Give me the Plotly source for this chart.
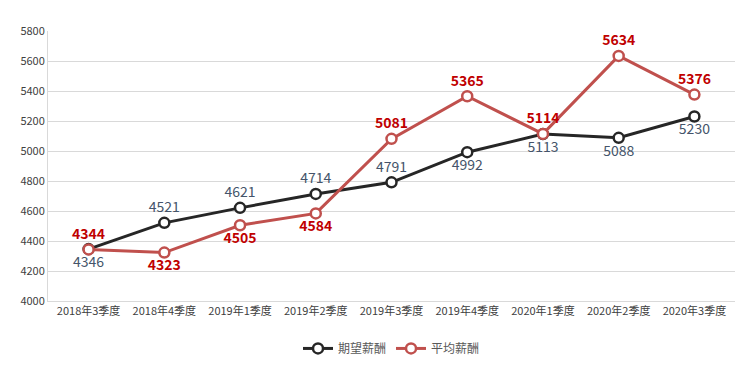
import plotly.graph_objects as go

categories = ["2018年3季度", "2018年4季度", "2019年1季度", "2019年2季度", "2019年3季度",
              "2019年4季度", "2020年1季度", "2020年2季度", "2020年3季度"]
expected = [4346, 4521, 4621, 4714, 4791, 4992, 5113, 5088, 5230]
average = [4344, 4323, 4505, 4584, 5081, 5365, 5114, 5634, 5376]
expected_pos = ["bottom center", "top center", "top center", "top center", "top center",
                "bottom center", "bottom center", "bottom center", "bottom center"]
average_pos = ["top center", "bottom center", "bottom center", "bottom center", "top center",
               "top center", "top center", "top center", "top center"]

font = "Noto Sans CJK SC, Microsoft YaHei, sans-serif"
fig = go.Figure()
fig.add_trace(go.Scatter(
    x=categories, y=expected, name="期望薪酬", mode="lines+markers+text",
    line=dict(color="#262626", width=3),
    marker=dict(symbol="circle", size=10, color="white", line=dict(color="#262626", width=2.5)),
    text=[str(v) for v in expected], textposition=expected_pos,
    textfont=dict(color="#44546A", size=14, family=font),
))
fig.add_trace(go.Scatter(
    x=categories, y=average, name="平均薪酬", mode="lines+markers+text",
    line=dict(color="#C0504D", width=3),
    marker=dict(symbol="circle", size=10, color="white", line=dict(color="#C0504D", width=2.5)),
    text=[str(v) for v in average], textposition=average_pos,
    textfont=dict(color="#C00000", size=14, family=font, weight="bold"),
))
fig.update_layout(
    width=736, height=357,
    margin=dict(l=40, r=9, t=23, b=64, autoexpand=False),
    paper_bgcolor="white", plot_bgcolor="white",
    font=dict(family=font, color="#595959", size=11),
    showlegend=True,
    legend=dict(orientation="h", x=0.5, xanchor="center", y=-0.122, yanchor="top",
                font=dict(size=12, color="#595959")),
    xaxis=dict(showgrid=False, showline=True, linecolor="#D9D9D9", ticks="",
               tickfont=dict(size=11, color="#404040"), automargin=False),
    yaxis=dict(range=[4000, 5800], dtick=200, showgrid=True, gridcolor="#D9D9D9",
               showline=True, linecolor="#D9D9D9", zeroline=False,
               tickfont=dict(size=11, color="#404040"), automargin=False),
)
fig.write_html("out.html")
